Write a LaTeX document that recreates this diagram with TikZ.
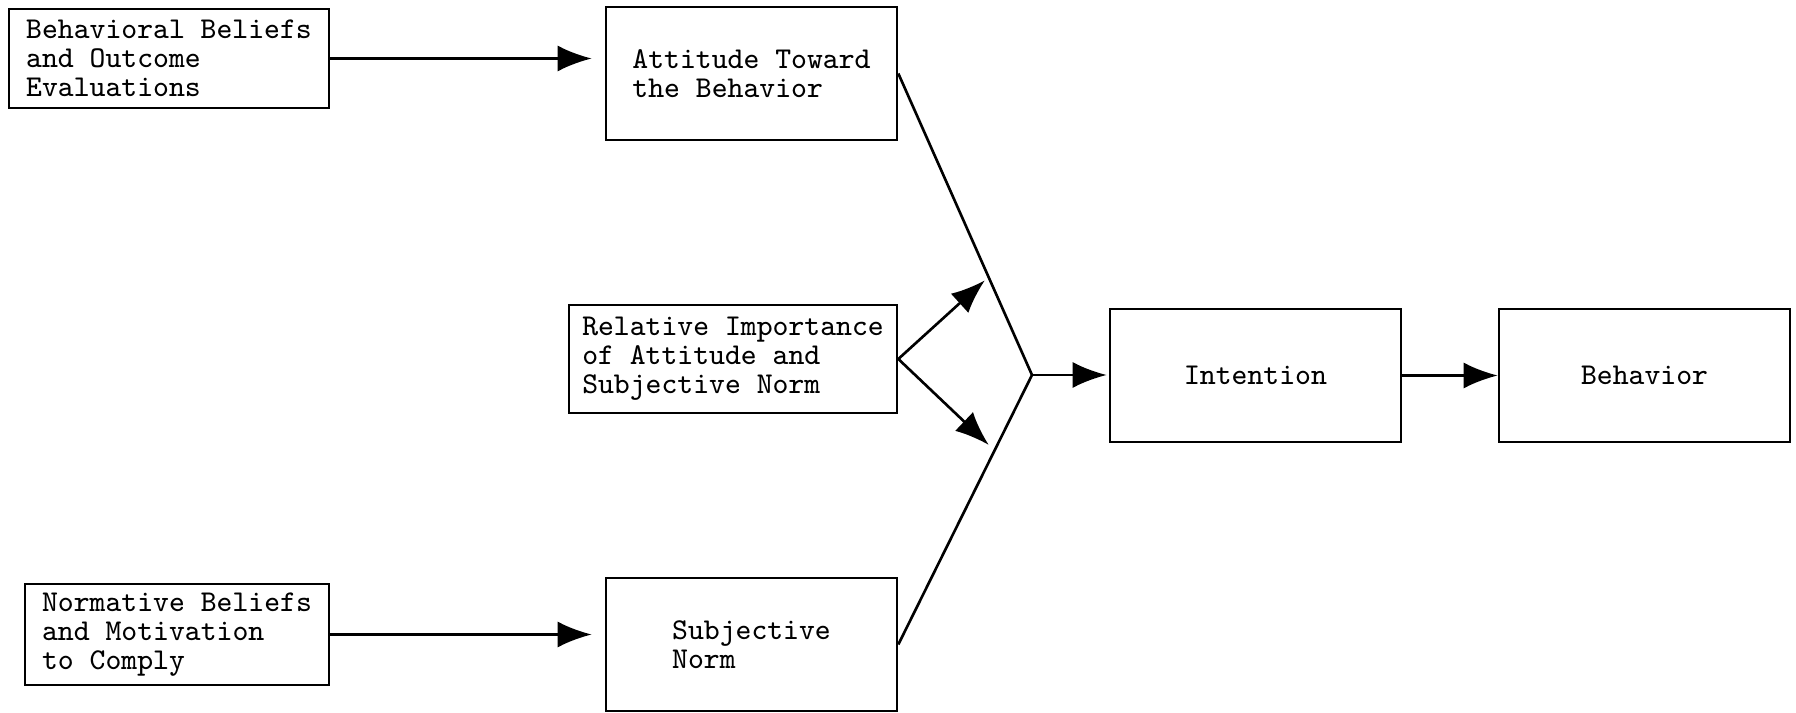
\documentclass[tikz,border=0pt]{standalone}
\usepackage{fontspec}
\usetikzlibrary{arrows.meta,positioning}
\tikzset{
  >={Latex[length=3.4mm,width=2.6mm]},
  box/.style={draw,line width=0.75pt,align=left,inner sep=0pt,
    font=\ttfamily\fontsize{8.6}{8.3}\selectfont,minimum width=#1,minimum height=13.3mm},
  box/.default=29.1mm,
  flow/.style={->,line width=0.75pt},
  link/.style={line width=0.75pt},
}

\begin{document}
\begin{tikzpicture}[x=0.1mm,y=-0.1mm]
  \useasboundingbox (0,0) rectangle (1796,713);
  % sources
  \node[box=32mm,minimum height=9.9mm] (beliefs) at (169,58.5) {Behavioral Beliefs\\and Outcome\\Evaluations};
  \node[box=30.4mm,minimum height=10.1mm] (normative) at (177,634.5) {Normative Beliefs\\and Motivation\\to Comply};
  \node[box=32.8mm,minimum height=10.8mm] (weight) at (733,359) {Relative Importance\\of Attitude and\\Subjective Norm};
  % constructs
  \node[box] (attitude) at (751.5,73.5) {Attitude Toward\\the Behavior};
  \node[box] (norm) at (751.5,644.5) {Subjective\\Norm};
  \node[box] (intention) at (1255.5,375.5) {Intention};
  \node[box] (behavior) at (1644.5,375.5) {Behavior};
  \coordinate (join) at (1032,375);

  \draw[flow,shorten >=1.3mm] (beliefs.east) -- (beliefs.east -| attitude.west);
  \draw[flow,shorten >=1.3mm] (normative.east) -- (normative.east -| norm.west);
  \draw[link] (attitude.east) -- coordinate[pos=0.675] (upper) (join)
    -- coordinate[pos=0.28] (lower) (norm.east);
  \draw[flow,shorten >=0.2mm] (join) -- (join -| intention.west);
  \draw[flow] (intention) -- (behavior);
  \draw[flow,shorten >=0.5mm] (weight.east) -- (upper);
  \draw[flow,shorten >=0.8mm] (weight.east) -- (lower);
\end{tikzpicture}
\end{document}
